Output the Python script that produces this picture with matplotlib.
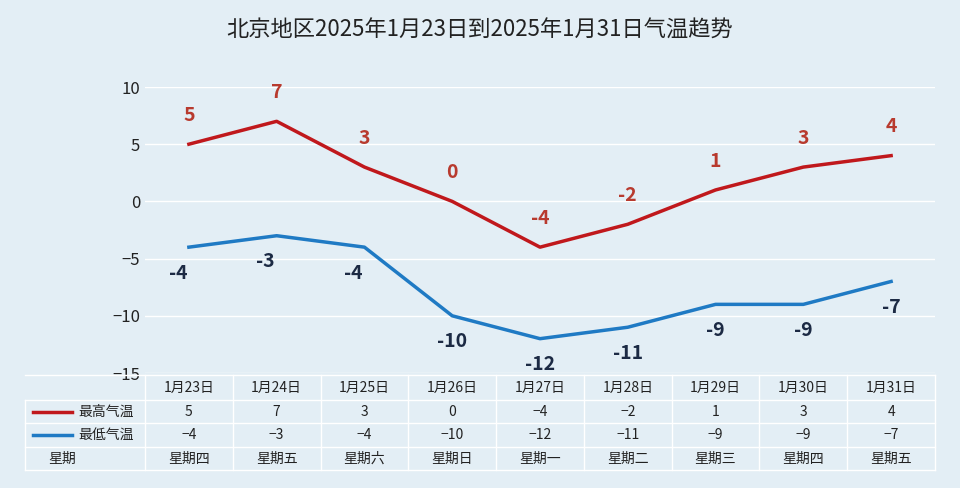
import matplotlib
matplotlib.use("Agg")
import matplotlib.pyplot as plt
from matplotlib.lines import Line2D
from matplotlib import font_manager as fm

names = sorted({f.name for f in fm.fontManager.ttflist if "CJK" in f.name})
cjk = None
for pref in ["Noto Sans CJK SC", "Noto Sans CJK JP", "Noto Sans CJK TC", "Noto Sans CJK KR"]:
    if pref in names:
        cjk = pref
        break
if cjk is None:
    sans = [n for n in names if "Sans" in n]
    cjk = sans[0] if sans else (names[0] if names else "DejaVu Sans")
plt.rcParams['font.family'] = [cjk, 'DejaVu Sans']
plt.rcParams['axes.unicode_minus'] = False

dates = ["1月23日", "1月24日", "1月25日", "1月26日", "1月27日", "1月28日", "1月29日", "1月30日", "1月31日"]
high = [5, 7, 3, 0, -4, -2, 1, 3, 4]
low = [-4, -3, -4, -10, -12, -11, -9, -9, -7]
weekdays = ["星期四", "星期五", "星期六", "星期日", "星期一", "星期二", "星期三", "星期四", "星期五"]
title = "北京地区2025年1月23日到2025年1月31日气温趋势"

RED = "#c0181c"
BLUE = "#1f7ac4"
W, H = 960, 488
fig = plt.figure(figsize=(9.6, 4.88), dpi=100)
fig.patch.set_facecolor("#e3eef5")

L, R, T, B = 145, 935, 87, 373
ax = fig.add_axes([L / W, 1 - B / H, (R - L) / W, (B - T) / H])
ax.set_facecolor("none")
x = list(range(len(dates)))
ax.plot(x, high, color=RED, lw=2.5)
ax.plot(x, low, color=BLUE, lw=2.5)
for i, v in enumerate(high):
    ax.annotate(str(v), (i, v), xytext=(0, 14), textcoords="offset points",
                ha="center", va="bottom", color="#b83a2e", fontsize=14, fontweight="bold")
for i, v in enumerate(low):
    ax.annotate(str(v), (i, v), xytext=(-8 if i < 3 else 0, -12), textcoords="offset points",
                ha="center", va="top", color="#1c2a44", fontsize=14, fontweight="bold")
ax.set_xlim(-0.5, len(dates) - 0.5)
ax.set_ylim(-15, 10)
ax.set_yticks(range(-15, 11, 5))
ax.set_yticklabels([str(v).replace("-", "−") for v in range(-15, 11, 5)])
ax.set_xticks([])
ax.tick_params(axis="y", length=0, labelsize=12, colors="#222222")
ax.grid(axis="y", color="white", lw=1)
for s in ax.spines.values():
    s.set_visible(False)

tab = fig.add_axes([0, 0, 1, 1])
tab.set_xlim(0, W)
tab.set_ylim(H, 0)
tab.axis("off")
rows_y = [375, 400, 423, 447, 470]
left_label = 25
colw = (R - L) / len(dates)
for yy in rows_y:
    tab.plot([left_label, R], [yy, yy], color="white", lw=1)
for j in range(len(dates) + 1):
    tab.plot([L + j * colw] * 2, [rows_y[0], rows_y[-1]], color="white", lw=1)
tab.plot([left_label] * 2, [rows_y[1], rows_y[-1]], color="white", lw=1)
rows = [dates, high, low, weekdays]
for r, vals in enumerate(rows):
    cy = (rows_y[r] + rows_y[r + 1]) / 2
    for j, v in enumerate(vals):
        s = str(v).replace("-", "−")
        tab.text(L + (j + 0.5) * colw, cy, s, ha="center", va="center", fontsize=10, color="#222222")
labels = [("最高气温", RED), ("最低气温", BLUE), ("星期", None)]
for k, (lab, c) in enumerate(labels):
    cy = (rows_y[k + 1] + rows_y[k + 2]) / 2
    if c:
        tab.add_line(Line2D([33, 72], [cy, cy], color=c, lw=2.5))
        tab.text(78, cy, lab, ha="left", va="center", fontsize=10, color="#222222")
    else:
        tab.text(48, cy, lab, ha="left", va="center", fontsize=10, color="#222222")

fig.text(0.5, 1 - 30 / H, title, ha="center", va="center", fontsize=16, color="#222222")
fig.savefig("out.png", dpi=100, facecolor=fig.get_facecolor())
